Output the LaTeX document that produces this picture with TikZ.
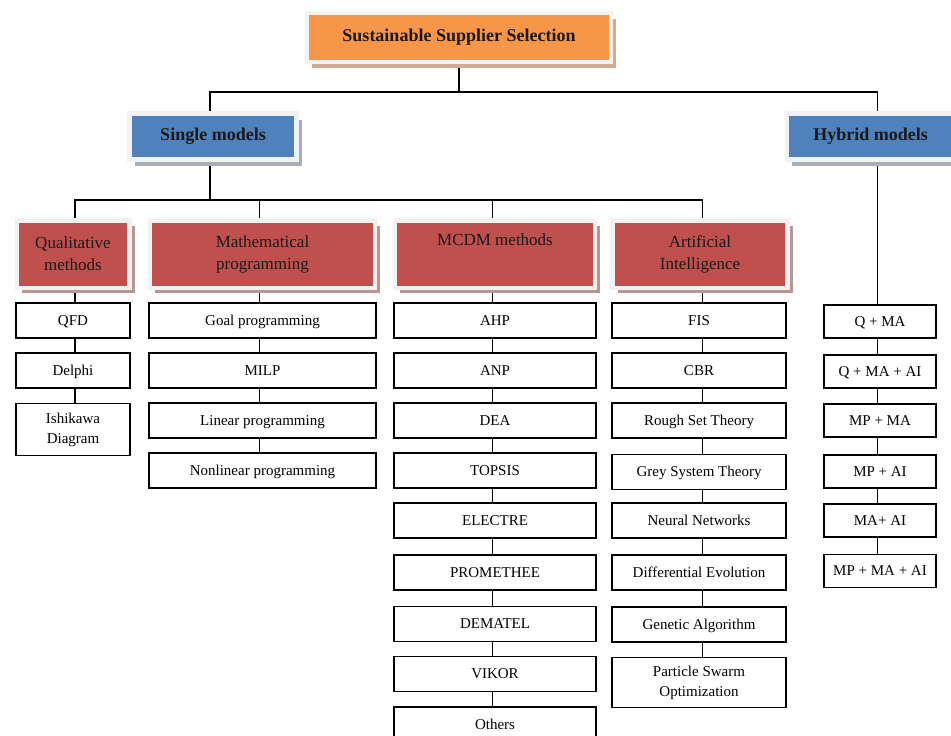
\documentclass[tikz,border=0pt]{standalone}
\usepackage{fontspec}
\setmainfont{Liberation Serif}
\usetikzlibrary{shadows,backgrounds}
\definecolor{sorange}{HTML}{F79646}
\definecolor{sblue}{HTML}{4F81BD}
\definecolor{sred}{HTML}{C0504D}
\definecolor{sframe}{HTML}{F2F2F2}
\definecolor{shorange}{HTML}{D6A98C}
\definecolor{shblue}{HTML}{A7AFBC}
\definecolor{shred}{HTML}{B89696}
\tikzset{
  framed/.style={draw=sframe, line width=4.5pt, inner sep=0pt, align=center, text=black!90},
  topbox/.style={framed, fill=sorange,
    drop shadow={shadow xshift=5.25pt, shadow yshift=-6pt, fill=shorange, opacity=1},
    font=\fontsize{18}{22}\selectfont\bfseries},
  modelbox/.style={framed, fill=sblue, minimum width=167pt, minimum height=46pt,
    drop shadow={shadow xshift=5.25pt, shadow yshift=-6pt, fill=shblue, opacity=1},
    font=\fontsize{18}{22}\selectfont\bfseries},
  catbox/.style={framed, fill=sred, minimum height=67.5pt,
    drop shadow={shadow xshift=5.25pt, shadow yshift=-5.5pt, fill=shred, opacity=1},
    font=\fontsize{17}{22}\selectfont},
  itembox/.style={draw=black, line width=1.7pt, fill=white, inner sep=0pt, align=center,
    minimum height=35pt, font=\fontsize{15}{20}\selectfont, text height=11pt, text depth=2pt},
  twoline/.style={text height=, text depth=},
  conn/.style={draw=black, line width=1.7pt},
}
\begin{document}
\begin{tikzpicture}[x=1pt,y=-1pt]
\useasboundingbox (0,0) rectangle (951,736);
% top
\node[topbox, minimum width=304pt, minimum height=49pt] (sss) at (459,37.5) {Sustainable Supplier Selection};
\node[modelbox] (single) at (213,136.5) {Single models};
\node[modelbox] (hybrid) at (870.5,136.5) {Hybrid models};
% categories
\node[catbox, minimum width=112.5pt] (qual) at (73,254) {Qualitative\\methods};
\node[catbox, minimum width=225pt] (math) at (262.5,254) {Mathematical\\programming};
\node[catbox, minimum width=200pt] (mcdm) at (495,254) {MCDM methods\\\strut};
\node[catbox, minimum width=175pt] (ai) at (700,254) {Artificial\\Intelligence};
% qualitative
\begin{scope}[every node/.append style={itembox, minimum width=114pt}]
\node (q1) at (73,320.5) {QFD};
\node (q2) at (73,370.5) {Delphi};
\node[twoline, minimum height=52pt] (q3) at (73,429.5) {Ishikawa\\Diagram};
\end{scope}
% mathematical
\begin{scope}[every node/.append style={itembox, minimum width=227pt}]
\node (m1) at (262.5,320.5) {Goal programming};
\node (m2) at (262.5,370.5) {MILP};
\node (m3) at (262.5,420.5) {Linear programming};
\node (m4) at (262.5,470.5) {Nonlinear programming};
\end{scope}
% MCDM
\begin{scope}[every node/.append style={itembox, minimum width=202pt}]
\node (c1) at (495,320.5) {AHP};
\node (c2) at (495,370.5) {ANP};
\node (c3) at (495,420.5) {DEA};
\node (c4) at (495,470.5) {TOPSIS};
\node (c5) at (495,520.5) {ELECTRE};
\node (c6) at (495,572.5) {PROMETHEE};
\node (c7) at (495,624) {DEMATEL};
\node (c8) at (495,674) {VIKOR};
\node (c9) at (495,724.5) {Others};
\end{scope}
% AI
\begin{scope}[every node/.append style={itembox, minimum width=174pt}]
\node (a1) at (699,320.5) {FIS};
\node (a2) at (699,370.5) {CBR};
\node (a3) at (699,420.5) {Rough Set Theory};
\node (a4) at (699,472) {Grey System Theory};
\node (a5) at (699,520.5) {Neural Networks};
\node (a6) at (699,572.5) {Differential Evolution};
\node (a7) at (699,624.5) {Genetic Algorithm};
\node[twoline, minimum height=50pt] (a8) at (699,682.5) {Particle Swarm\\Optimization};
\end{scope}
% hybrid
\begin{scope}[every node/.append style={itembox, minimum width=112pt, minimum height=33pt}]
\node (h1) at (880,321.5) {Q + MA};
\node (h2) at (880,371.5) {Q + MA + AI};
\node (h3) at (880,420.5) {MP + MA};
\node (h4) at (880,471.5) {MP + AI};
\node (h5) at (880,520.5) {MA+ AI};
\node (h6) at (880,571) {MP + MA + AI};
\end{scope}
% connector guides
\coordinate (bus1) at (0,92);
\coordinate (bus2) at (0,200);
\coordinate (xs) at (210,0);
\coordinate (xh) at (877.5,0);
\coordinate (xq) at (75,0);
\coordinate (xm) at (259.5,0);
\coordinate (xc) at (492.5,0);
\coordinate (xa) at (702.5,0);
\begin{scope}[on background layer]
\draw[conn] (sss.center) -- (sss.center |- bus1);
\draw[conn] (xs |- single.center) -- (xs |- bus1) -- (xh |- bus1) -- (xh |- hybrid.center);
\draw[conn] (xs |- single.center) -- (xs |- bus2);
\draw[conn] (xq |- qual.center) -- (xq |- bus2) -- (xa |- bus2) -- (xa |- ai.center);
\draw[conn] (xm |- bus2) -- (xm |- math.center);
\draw[conn] (xc |- bus2) -- (xc |- mcdm.center);
\draw[conn] (xq |- qual.center) -- (xq |- q3.center);
\draw[conn] (xm |- math.center) -- (xm |- m4.center);
\draw[conn] (xc |- mcdm.center) -- (xc |- c9.center);
\draw[conn] (xa |- ai.center) -- (xa |- a8.center);
\draw[conn] (xh |- hybrid.center) -- (xh |- h6.center);
\end{scope}
\end{tikzpicture}
\end{document}
